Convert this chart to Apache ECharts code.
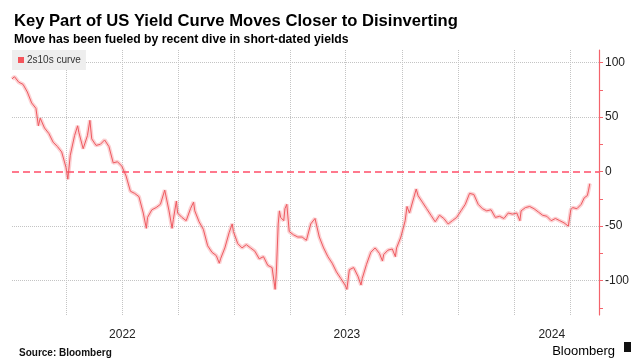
<!DOCTYPE html>
<html><head><meta charset="utf-8">
<script src="https://cdn.jsdelivr.net/npm/echarts@6/dist/echarts.min.js"></script>
<style>html,body{margin:0;padding:0;background:#fff}#c{width:644px;height:361px}</style>
</head><body><div id="c"></div>
<script>
// ---- data (2s10s spread, bp) ----
const dates = [
'2022-01-03','2022-01-07','2022-01-14','2022-01-21','2022-01-28','2022-02-04','2022-02-11','2022-02-15','2022-02-18','2022-02-25',
'2022-03-04','2022-03-11','2022-03-18','2022-03-25','2022-04-01','2022-04-04','2022-04-08','2022-04-15','2022-04-20','2022-04-22',
'2022-04-29','2022-05-06','2022-05-10','2022-05-13','2022-05-20','2022-05-27','2022-06-03','2022-06-10','2022-06-17','2022-06-24',
'2022-07-01','2022-07-08','2022-07-15','2022-07-22','2022-07-29','2022-08-05','2022-08-10','2022-08-12','2022-08-19','2022-08-26',
'2022-09-02','2022-09-09','2022-09-16','2022-09-21','2022-09-23','2022-09-28','2022-09-30','2022-10-07','2022-10-14','2022-10-21',
'2022-10-26','2022-10-28','2022-11-04','2022-11-11','2022-11-18','2022-11-25','2022-12-02','2022-12-07','2022-12-09','2022-12-16',
'2022-12-23','2022-12-28','2022-12-30',
'2023-01-06','2023-01-13','2023-01-20','2023-01-27','2023-02-03','2023-02-10','2023-02-17','2023-02-24','2023-03-03','2023-03-08',
'2023-03-10','2023-03-13','2023-03-15','2023-03-17','2023-03-22','2023-03-24','2023-03-27','2023-03-31','2023-04-07','2023-04-14',
'2023-04-21','2023-04-28','2023-05-05','2023-05-12','2023-05-19','2023-05-26','2023-06-02','2023-06-09','2023-06-16','2023-06-23',
'2023-06-30','2023-07-03','2023-07-07','2023-07-14','2023-07-21','2023-07-26','2023-07-28','2023-08-04','2023-08-11','2023-08-18',
'2023-08-25','2023-08-30','2023-09-01','2023-09-08','2023-09-15','2023-09-20','2023-09-22','2023-09-29','2023-10-06','2023-10-09',
'2023-10-13','2023-10-20','2023-10-24','2023-10-27','2023-11-03','2023-11-10','2023-11-17','2023-11-24','2023-12-01','2023-12-08',
'2023-12-15','2023-12-22','2023-12-29',
'2024-01-05','2024-01-12','2024-01-19','2024-01-26','2024-02-02','2024-02-09','2024-02-16','2024-02-23','2024-03-01','2024-03-08',
'2024-03-15','2024-03-22','2024-03-29','2024-04-05','2024-04-10','2024-04-12','2024-04-19','2024-04-26','2024-05-03','2024-05-10',
'2024-05-17','2024-05-24','2024-05-31','2024-06-07','2024-06-14','2024-06-21','2024-06-28','2024-07-02','2024-07-05','2024-07-12',
'2024-07-19','2024-07-24','2024-07-29','2024-07-31','2024-08-02'
];
const values = [
85,87,82,80,73,63,58,42,49,40,
35,27,23,18,4,-7,15,33,42,36,
21,33,47,30,24,25,29,23,8,9,
5,-4,-18,-20,-23,-38,-52,-42,-35,-33,
-30,-17,-36,-52,-44,-27,-38,-42,-45,-34,
-28,-36,-46,-53,-68,-74,-77,-84,-80,-70,
-56,-48,-55,
-66,-70,-67,-70,-73,-80,-78,-86,-88,-108,
-92,-48,-36,-42,-45,-34,-30,-55,-58,-60,
-60,-63,-48,-43,-60,-70,-78,-84,-92,-98,
-104,-108,-90,-88,-96,-104,-98,-85,-74,-70,
-75,-82,-76,-72,-71,-78,-70,-60,-45,-32,
-38,-24,-16,-22,-28,-34,-40,-46,-40,-43,
-48,-45,-42,
-36,-30,-20,-21,-30,-34,-36,-35,-42,-41,
-43,-38,-39,-38,-45,-36,-33,-32,-34,-37,
-40,-41,-45,-43,-45,-47,-50,-35,-33,-34,
-30,-24,-22,-17,-11
];
const seriesName = '2s10s curve';
const yLabelValues = [-100, -50, 0, 50, 100];
const yTickValues = [-125, -100, -75, -50, -25, 0, 25, 50, 75, 100];
const hGridValues = [100, 50, -50, -100];
const zeroLineValue = 0;
const quarterStarts = ['2022-04-01','2022-07-01','2022-10-01','2023-01-01','2023-04-01','2023-07-01','2023-10-01','2024-01-01','2024-04-01','2024-07-01'];
const yearLabelDates = ['2022-07-02','2023-07-03','2024-06-01'];
const xMin = '2022-01-03', xMax = '2024-08-17';

const FONT = 'Liberation Sans';
const ts = d => Date.parse(d + 'T00:00:00Z');
const seriesData = dates.map((d, i) => [ts(d), values[i]]);
const gridLineStyle = {type: 'dotted', color: '#c4c4c4', width: 1};

const chart = echarts.init(document.getElementById('c'), null, {renderer: 'canvas'});
chart.setOption({
  animation: false,
  backgroundColor: '#ffffff',
  textStyle: {fontFamily: FONT},
  title: [
    {text: 'Key Part of US Yield Curve Moves Closer to Disinverting', left: 9, top: 8,
     textStyle: {fontFamily: FONT, fontSize: 16.6, fontWeight: 'bold', color: '#000'}},
    {text: 'Move has been fueled by recent dive in short-dated yields', left: 9, top: 29,
     textStyle: {fontFamily: FONT, fontSize: 12.2, fontWeight: 'bold', color: '#000'}},
    {text: 'Source: Bloomberg', left: 14, top: 343,
     textStyle: {fontFamily: FONT, fontSize: 10, fontWeight: 'bold', color: '#111'}},
    {text: 'Bloomberg', right: 24, top: 340,
     textStyle: {fontFamily: FONT, fontSize: 13, fontWeight: 'normal', color: '#000'}}
  ],
  graphic: [
    {type: 'rect', right: 13, top: 342, shape: {width: 7, height: 10}, style: {fill: '#111'}}
  ],
  legend: {
    data: [seriesName], left: 12, top: 50, icon: 'rect', itemWidth: 6, itemHeight: 6,
    backgroundColor: '#eeeeee', padding: [5, 5, 5, 6], itemGap: 4,
    textStyle: {fontFamily: FONT, fontSize: 10, color: '#333', padding: [0, 0, 0, -2]}
  },
  grid: {left: 12, right: 45, top: 50, bottom: 46},
  xAxis: {
    type: 'value', min: ts(xMin), max: ts(xMax), scale: true,
    axisLine: {show: false}, axisTick: {show: false}, splitLine: {show: false},
    axisLabel: {
      customValues: yearLabelDates.map(ts),
      formatter: v => String(new Date(v).getUTCFullYear()),
      fontFamily: FONT, fontSize: 12, color: '#222', margin: 14
    }
  },
  yAxis: {
    type: 'value', position: 'right', min: -131.5, max: 111.5,
    axisLine: {show: true, lineStyle: {color: '#f4646c', width: 1.2}},
    axisTick: {show: true, customValues: yTickValues, length: 4, lineStyle: {color: '#f4646c'}},
    axisLabel: {customValues: yLabelValues, fontFamily: FONT, fontSize: 12, color: '#222', margin: 6},
    splitLine: {show: false}
  },
  series: [
    {
      name: 'band', type: 'line', data: seriesData, symbol: 'none', silent: true, z: 1,
      lineStyle: {color: 'rgba(248,140,145,0.40)', width: 4}
    },
    {
      name: seriesName, type: 'line', data: seriesData, symbol: 'none', z: 3,
      itemStyle: {color: '#f4555c'},
      lineStyle: {color: '#ee5a60', width: 1},
      markLine: {
        silent: true, symbol: 'none', label: {show: false}, animation: false, z: 2,
        data: [
          ...quarterStarts.map(d => ({xAxis: ts(d), lineStyle: gridLineStyle})),
          ...hGridValues.map(v => ({yAxis: v, lineStyle: gridLineStyle})),
          {yAxis: zeroLineValue, lineStyle: {type: [7, 4], color: '#ff4d68', width: 1.6}}
        ]
      }
    }
  ]
});
</script></body></html>
